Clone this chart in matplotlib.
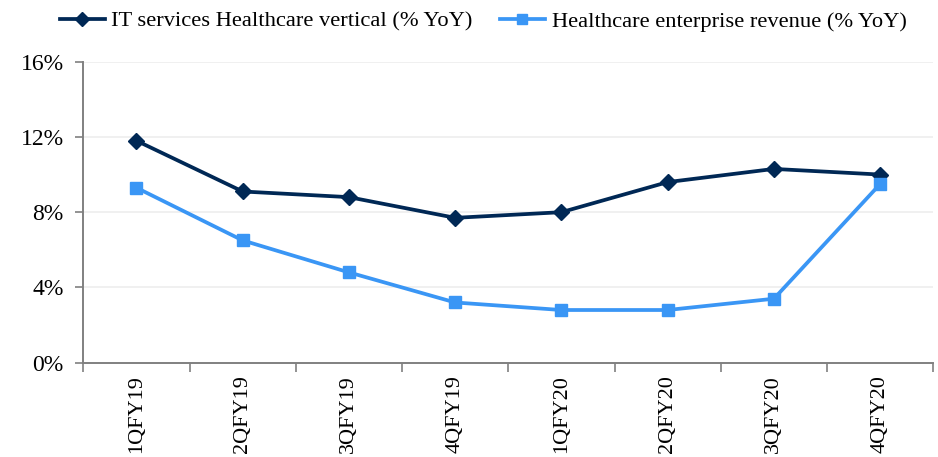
import matplotlib
matplotlib.use("Agg")
import matplotlib.pyplot as plt
from matplotlib.ticker import FixedLocator, NullFormatter

categories = ["1QFY19", "2QFY19", "3QFY19", "4QFY19", "1QFY20", "2QFY20", "3QFY20", "4QFY20"]
it_services = [11.8, 9.1, 8.8, 7.7, 8.0, 9.6, 10.3, 10.0]
enterprise = [9.3, 6.5, 4.8, 3.2, 2.8, 2.8, 3.4, 9.5]
yticks = [0, 4, 8, 12, 16]
ytick_labels = ["0%", "4%", "8%", "12%", "16%"]

plt.rcParams['font.family'] = ['Liberation Serif', 'DejaVu Serif']

fig = plt.figure(figsize=(9.38, 4.57), dpi=100)
ax = fig.add_axes([0.0888, 0.2064, 0.9062, 0.6586])

x = list(range(len(categories)))
ax.plot(x, it_services, color="#002855", lw=2.7, marker="D", ms=8.5,
        label="IT services Healthcare vertical (% YoY)", zorder=3)
ax.plot(x, enterprise, color="#3A96F5", lw=2.7, marker="s", ms=8.5,
        label="Healthcare enterprise revenue (% YoY)", zorder=3)

ax.set_ylim(0, 16)
ax.set_xlim(-0.5, len(categories) - 0.5)
ax.set_yticks(yticks)
ax.set_yticklabels(ytick_labels, fontsize=17)
ax.yaxis.grid(True, color="#EEEEEE", lw=1.2)
ax.set_axisbelow(True)

ax.xaxis.set_major_locator(FixedLocator([i - 0.5 for i in range(len(categories) + 1)]))
ax.xaxis.set_major_formatter(NullFormatter())
ax.xaxis.set_minor_locator(FixedLocator(x))
ax.set_xticklabels(categories, minor=True, rotation=90, fontsize=16)
ax.tick_params(axis="x", which="major", length=6.5, width=1.2, color="#808080", direction="out")
ax.tick_params(axis="x", which="minor", length=0, pad=9)
ax.tick_params(axis="y", length=6, width=1.2, color="#808080", pad=8)

for s in ["top", "right"]:
    ax.spines[s].set_visible(False)
for s in ["left", "bottom"]:
    ax.spines[s].set_color("#808080")
    ax.spines[s].set_linewidth(1.4)

fig.legend(loc="upper center", bbox_to_anchor=(0.515, 1.02), ncol=2, frameon=False,
           fontsize=16.2, handlelength=2.0, columnspacing=1.2, handletextpad=0.3,
           markerscale=0.8)

fig.savefig("out.png", dpi=100)
